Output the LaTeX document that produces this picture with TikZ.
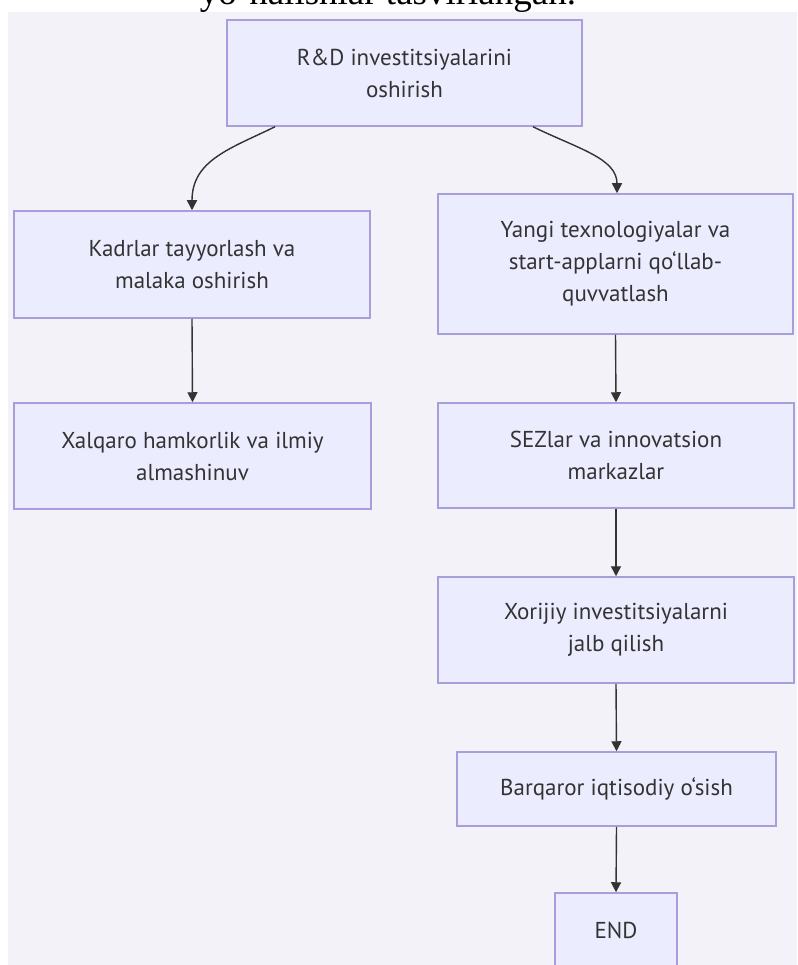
\documentclass[tikz,border=0pt]{standalone}
\usepackage{fontspec}
\setmainfont{PT Sans}
\newfontfamily\titlefont{Liberation Serif}
\usetikzlibrary{arrows.meta}
\definecolor{bggray}{RGB}{243,242,248}
\definecolor{boxfill}{RGB}{236,236,255}
\definecolor{boxline}{RGB}{170,158,218}
\definecolor{txt}{RGB}{51,51,51}
\definecolor{edge}{RGB}{51,51,51}
\tikzset{
  box/.style={draw=boxline, fill=boxfill, line width=1.5pt, rectangle, align=center,
    text=txt, font=\fontsize{23}{32}\selectfont, inner sep=0pt},
  conn/.style={draw=edge, line width=1.4pt, -{Triangle[length=10pt,width=10pt]}},
}
\begin{document}
\begin{tikzpicture}[x=1pt,y=-1pt]
\useasboundingbox (0,0) rectangle (797,965);
\fill[white] (0,0) rectangle (797,965);
\node[font=\titlefont\fontsize{37}{40}\selectfont, text=black, anchor=base, inner sep=0pt] (title) at (388,5) {yo‘nalishlar tasvirlangan.};
\fill[bggray] (8,12) rectangle (797,965);
\node[box, minimum width=355pt, minimum height=106pt] (top) at (404.5,73) {R\&D investitsiyalarini\\oshirish};
\node[box, minimum width=356pt, minimum height=107pt] (kadr) at (192,264.5) {Kadrlar tayyorlash va\\malaka oshirish};
\node[box, minimum width=355pt, minimum height=140pt] (yangi) at (615.5,264) {Yangi texnologiyalar va\\start-applarni qo‘llab-\\quvvatlash};
\node[box, minimum width=357pt, minimum height=106pt] (xalq) at (192.5,456) {Xalqaro hamkorlik va ilmiy\\almashinuv};
\node[box, minimum width=356pt, minimum height=105pt] (sez) at (616,455.5) {SEZlar va innovatsion\\markazlar};
\node[box, minimum width=356pt, minimum height=106pt] (xor) at (616,630) {Xorijiy investitsiyalarni\\jalb qilish};
\node[box, minimum width=319pt, minimum height=74pt] (barq) at (616.5,789) {Barqaror iqtisodiy o‘sish};
\node[box, minimum width=122pt, minimum height=74pt] (end) at (616,930) {END};
\draw[conn] ([xshift=-129.5pt]top.south) .. controls +(-45,22) and +(0,-50) .. ([xshift=0pt]kadr.north);
\draw[conn] ([xshift=128.5pt]top.south) .. controls +(45,22) and +(0,-35) .. ([xshift=1.5pt]yangi.north);
\draw[conn] (kadr.south) -- (xalq.north);
\draw[conn] (yangi.south) -- (sez.north);
\draw[conn] (sez.south) -- (xor.north);
\draw[conn] (xor.south) -- (barq.north);
\draw[conn] (barq.south) -- (end.north);
\end{tikzpicture}
\end{document}
